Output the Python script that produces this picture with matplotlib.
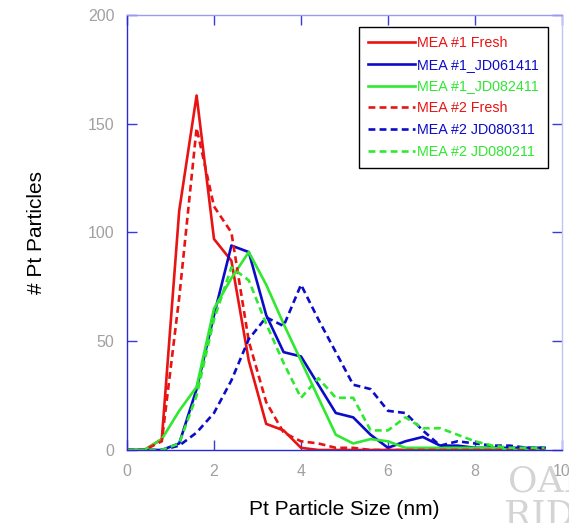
import matplotlib
matplotlib.use('Agg')
import matplotlib.pyplot as plt

plt.rcParams['font.family'] = ['Liberation Sans', 'DejaVu Sans']

# particle size bins (nm)
size_nm = [0.0, 0.4, 0.8, 1.2, 1.6, 2.0, 2.4, 2.8, 3.2, 3.6, 4.0, 4.4, 4.8,
           5.2, 5.6, 6.0, 6.4, 6.8, 7.2, 7.6, 8.0, 8.4, 8.8, 9.2, 9.6]

mea1_fresh = [0, 0, 5, 110, 163, 97, 87, 41, 12, 9, 1, 0, 0,
              0, 0, 0, 0, 0, 0, 0, 0, 0, 0, 0, 0]
mea1_jd061411 = [0, 0, 0, 3, 28, 62, 94, 91, 62, 45, 43, 30, 17,
                 15, 7, 1, 4, 6, 2, 2, 1, 1, 1, 1, 1]
mea1_jd082411 = [0, 0, 5, 18, 29, 65, 79, 91, 76, 58, 41, 24, 7,
                 3, 5, 4, 1, 1, 1, 1, 1, 1, 0, 0, 0]
mea2_fresh = [0, 0, 4, 70, 148, 112, 100, 50, 22, 8, 4, 3, 1,
              1, 0, 0, 0, 0, 0, 0, 0, 0, 0, 0, 0]
mea2_jd080311 = [0, 0, 0, 2, 8, 17, 32, 51, 61, 57, 76, 60, 45,
                 30, 28, 18, 17, 9, 2, 4, 3, 2, 2, 1, 1]
mea2_jd080211 = [0, 0, 0, 3, 25, 60, 84, 78, 58, 40, 24, 33, 24,
                 24, 9, 9, 15, 10, 10, 7, 4, 2, 1, 1, 1]

labels = ['MEA #1 Fresh', 'MEA #1_JD061411', 'MEA #1_JD082411',
          'MEA #2 Fresh', 'MEA #2 JD080311', 'MEA #2 JD080211']

red = '#e81414'
blue = '#0c0cc8'
green = '#30e830'

fig = plt.figure(figsize=(5.69, 5.23), dpi=100)
ax = fig.add_axes([0.2232, 0.1396, 0.7645, 0.8317])

series = [(mea1_fresh, red, '-'), (mea1_jd061411, blue, '-'),
          (mea1_jd082411, green, '-'), (mea2_fresh, red, '--'),
          (mea2_jd080311, blue, '--'), (mea2_jd080211, green, '--')]
for (vals, col, ls), lab in zip(series, labels):
    ln, = ax.plot(size_nm, vals, color=col, linestyle=ls, lw=1.9, label=lab)
    if ls == '--':
        ln.set_dashes((2.6, 1.6))

ax.set_xlim(0, 10)
ax.set_ylim(0, 200)
ax.set_xticks([0, 2, 4, 6, 8, 10])
ax.set_yticks([0, 50, 100, 150, 200])

ax.spines['left'].set_color('#2a2ad0')
ax.spines['bottom'].set_color('#2a2ad0')
ax.spines['top'].set_color('#9a9af0')
ax.spines['right'].set_color('#c4c4f4')
for s in ax.spines.values():
    s.set_linewidth(1.0)

ax.tick_params(direction='in', length=7, width=1, color='#3a3ad8',
               top=True, right=True, labelsize=11.5, labelcolor='#a0a0a0')
ax.tick_params(axis='x', pad=10)
ax.tick_params(axis='y', pad=9)

ax.set_xlabel('Pt Particle Size (nm)', fontsize=15, labelpad=15)
ax.set_ylabel('# Pt Particles', fontsize=15, labelpad=30)

leg = ax.legend(loc='upper right', bbox_to_anchor=(0.967, 0.972),
                fontsize=10.3, frameon=True, fancybox=False, framealpha=1,
                edgecolor='black', handlelength=3.3, handletextpad=0.15,
                labelspacing=0.55, borderpad=0.6, borderaxespad=0)
leg.get_frame().set_linewidth(1.0)
for txt, (vals, col, ls) in zip(leg.get_texts(), series):
    txt.set_color(col)

# watermark in the corner
fig.text(0.893, 0.06, 'OAK', fontsize=26, family='DejaVu Serif',
         color='#d4d4d4', zorder=0)
fig.text(0.885, -0.005, 'RIDGE', fontsize=26, family='DejaVu Serif',
         color='#d4d4d4', zorder=0)

fig.savefig('out.png', dpi=100)
plt.close('all')
